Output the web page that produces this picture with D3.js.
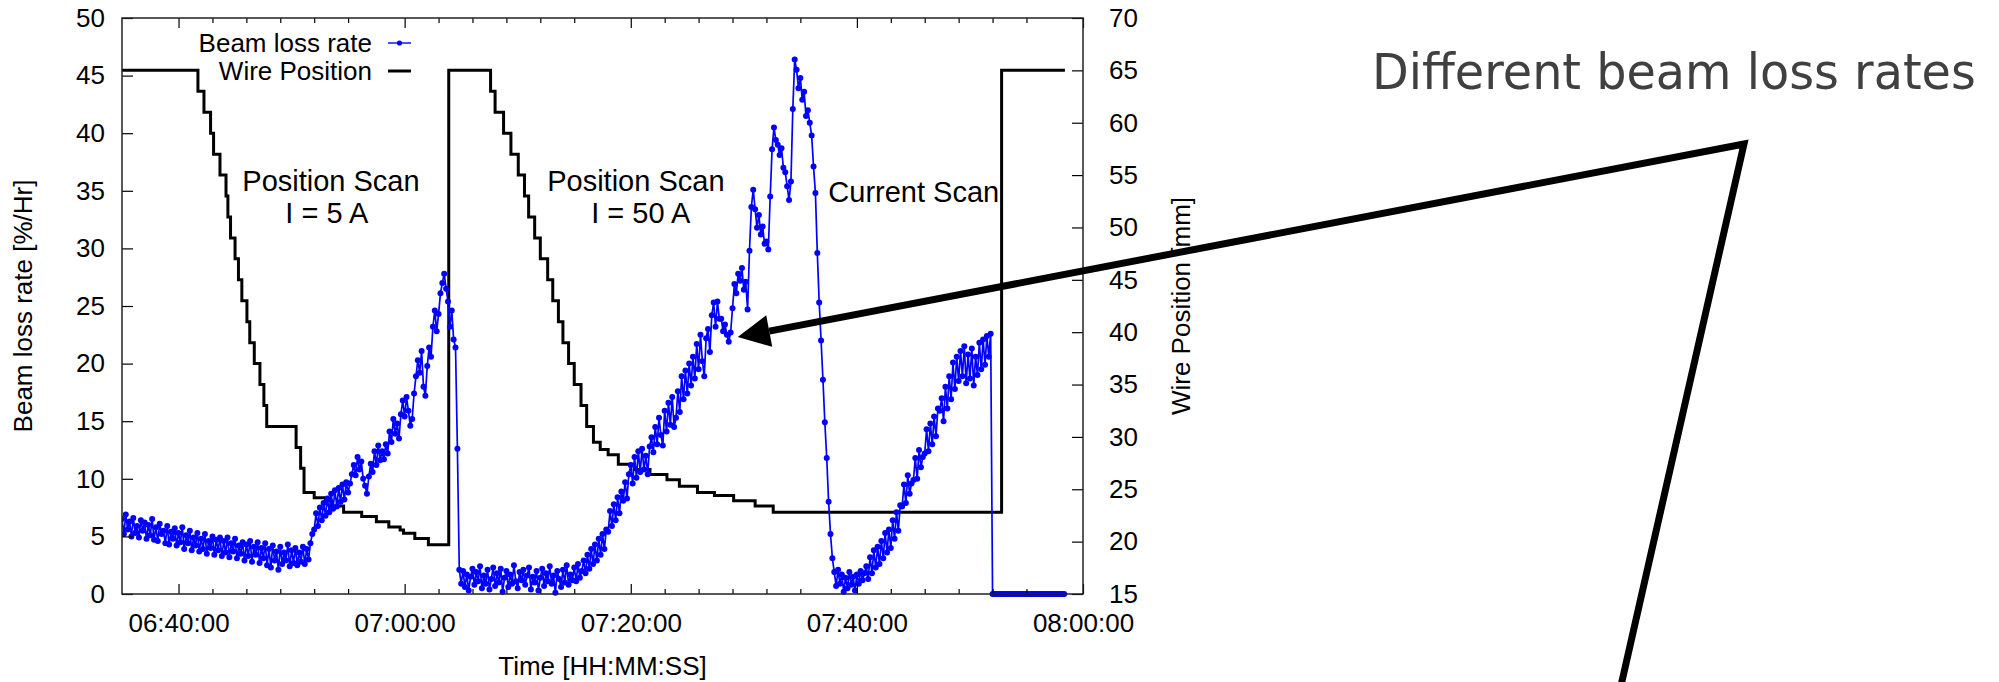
<!DOCTYPE html>
<html>
<head>
<meta charset="utf-8">
<script src="https://cdn.jsdelivr.net/npm/d3@7/dist/d3.min.js"></script>
<style>
  body { margin: 0; background: #fff; }
  text { font-family: "Liberation Sans", Arial, sans-serif; fill: #000; }
</style>
</head>
<body>
<div id="chart"></div>
<script>

// beam loss rate [%/Hr], one sample every 10 s starting at lossStart (one row = 1 min)
var lossStart = "06:35:00";
var lossStepSec = 10;
var lossValues = [
  6.5, 5.2, 6.9, 5.6, 6.3, 5.0,      // 06:35
  6.6, 5.3, 5.9, 4.9, 6.4, 5.5,
  6.2, 4.8, 6.0, 5.1, 6.5, 4.7,
  5.8, 4.6, 6.1, 5.2, 5.5, 4.4,
  5.9, 4.3, 5.4, 4.8, 5.7, 4.2,
  5.3, 4.5, 5.8, 3.9, 5.1, 4.4,      // 06:40
  5.5, 3.8, 4.9, 4.2, 5.3, 3.7,
  4.8, 3.9, 5.2, 3.5, 4.6, 4.0,
  5.0, 3.4, 4.7, 3.8, 4.9, 3.3,
  4.6, 3.6, 4.9, 3.2, 4.4, 3.7,
  4.8, 3.1, 4.2, 3.5, 4.5, 2.9,      // 06:45
  4.3, 3.3, 4.6, 2.8, 4.1, 3.4,
  4.5, 2.7, 4.0, 3.1, 4.4, 2.5,
  3.9, 2.3, 4.2, 2.9, 3.7, 2.1,
  4.1, 2.6, 3.6, 2.9, 4.3, 2.4,
  3.8, 2.7, 4.0, 2.5, 3.6, 2.8,      // 06:50
  4.1, 2.6, 3.9, 3.0, 4.4, 5.2,
  5.6, 7.0, 5.9, 7.5, 6.4, 7.9,
  6.8, 8.3, 7.1, 8.7, 7.4, 9.0,
  7.6, 9.2, 8.0, 9.5, 8.2, 9.7,
  8.8, 9.6, 10.4, 11.2, 10.3, 11.9,  // 06:55
  10.8, 11.5, 10.0, 9.4, 8.7, 10.2,
  11.3, 10.6, 12.4, 11.2, 12.9, 11.6,
  12.4, 11.7, 13.0, 12.2, 14.1, 13.2,
  15.2, 13.9, 14.8, 13.5, 15.6, 16.8,
  15.4, 17.1, 15.9, 14.6, 15.2, 17.4, // 07:00
  18.9, 20.3, 19.2, 21.1, 18.0, 17.2,
  19.8, 21.4, 20.6, 23.2, 24.6, 22.8,
  24.3, 26.1, 27.0, 27.8, 26.5, 25.4,
  23.2, 24.6, 22.1, 21.4, 12.6, 2.1,
  0.9, 2.0, 0.6, 1.7, 0.3, 1.5,      // 07:05
  2.2, 0.8, 1.9, 1.1, 2.4, 0.5,
  1.6, 0.9, 2.1, 0.4, 1.3, 2.3,
  0.7, 1.8, 1.0, 2.2, 0.2, 1.4,
  2.0, 0.6, 1.7, 0.9, 2.5, 1.1,
  0.5, 1.9, 1.2, 2.1, 0.8, 1.6,      // 07:10
  2.3, 0.4, 1.5, 1.0, 2.0, 0.3,
  1.4, 2.2, 0.7, 1.8, 1.1, 2.4,
  0.9, 1.6, 0.1, 2.0, 1.3, 0.6,
  2.1, 1.0, 2.5, 0.8, 1.7, 1.2,
  2.3, 1.1, 2.6, 1.4, 2.0, 2.9,      // 07:15
  1.8, 3.4, 2.2, 3.9, 2.6, 4.3,
  2.9, 4.8, 3.4, 5.2, 3.9, 5.6,
  5.4, 7.2, 5.9, 7.8, 6.4, 8.4,
  7.0, 8.9, 8.1, 9.7, 8.3, 10.4,
  11.2, 9.6, 11.9, 10.1, 12.4, 10.6, // 07:20
  12.6, 10.8, 12.0, 10.4, 12.8, 13.6,
  12.3, 14.5, 13.0, 15.3, 13.8, 12.9,
  15.9, 14.1, 16.6, 14.7, 17.1, 14.5,
  15.3, 17.6, 15.8, 18.9, 16.9, 19.4,
  17.4, 20.0, 18.1, 20.6, 18.7, 21.7, // 07:25
  19.5, 22.5, 20.2, 18.9, 22.2, 23.0,
  21.0, 24.2, 25.3, 23.2, 25.4, 23.9,
  23.9, 22.8, 23.4, 22.5, 21.9, 22.7,
  24.8, 26.9, 26.1, 27.8, 27.2, 28.3,
  26.4, 27.1, 24.7, 29.8, 33.6, 35.1, // 07:30
  33.4, 31.8, 32.9, 31.2, 31.9, 30.4,
  30.6, 29.9, 34.5, 38.6, 40.5, 39.4,
  39.0, 38.1, 38.7, 37.0, 36.6, 35.4,
  34.2, 35.8, 42.1, 46.4, 45.5, 43.9,
  44.8, 42.9, 43.6, 41.5, 42.0, 40.9, // 07:35
  39.8, 37.1, 34.8, 29.6, 25.3, 22.0,
  18.6, 14.9, 11.8, 8.0, 5.2, 3.1,
  1.9, 0.7, 2.1, 0.9, 1.7, 0.2,
  1.4, 0.5, 1.9, 0.8, 1.5, 0.3,
  1.7, 0.9, 2.0, 1.2, 1.8, 2.4,      // 07:40
  1.3, 3.2, 1.8, 3.8, 2.3, 4.1,
  2.6, 4.6, 3.1, 5.3, 3.6, 5.6,
  4.0, 6.4, 4.8, 7.1, 5.5, 7.7,
  7.6, 9.5, 7.9, 10.3, 8.7, 9.6,
  9.9, 11.8, 10.0, 12.5, 11.0, 11.9, // 07:45
  12.2, 14.3, 12.4, 14.8, 13.0, 15.4,
  13.7, 16.1, 15.9, 17.0, 15.0, 18.0,
  16.1, 18.9, 16.9, 20.1, 17.8, 20.6,
  18.5, 21.1, 18.9, 21.5, 18.3, 20.8,
  18.7, 21.3, 18.1, 20.6, 19.0, 21.8, // 07:50
  19.5, 22.1, 19.9, 22.4, 20.6, 22.6,
  0, 0, 0, 0, 0, 0,
  0, 0, 0, 0, 0, 0,
  0, 0, 0, 0, 0, 0,
  0, 0, 0, 0, 0, 0,                  // 07:55
  0, 0, 0, 0, 0, 0,
  0, 0, 0, 0, 0, 0,
  0, 0, 0
];

// wire position [mm]: time of each move and the new position
var wireTimes = [
  "06:35:00", "06:41:43", "06:42:15", "06:42:50", "06:43:06", "06:43:40",
  "06:44:12", "06:44:22", "06:44:36", "06:45:00", "06:45:18", "06:45:36",
  "06:46:03", "06:46:18", "06:46:42", "06:47:12", "06:47:33", "06:47:48",
  "06:50:24", "06:50:48", "06:51:06", "06:52:00", "06:53:00", "06:53:30",
  "06:54:36", "06:56:12", "06:57:30", "06:58:36", "06:59:36", "06:59:54",
  "07:00:54", "07:02:06", "07:03:54",
  "07:07:36", "07:08:00", "07:08:45", "07:09:24", "07:10:03", "07:10:36",
  "07:10:58", "07:11:30", "07:12:00", "07:12:39", "07:13:06", "07:13:36",
  "07:14:00", "07:14:30", "07:15:00", "07:15:36", "07:16:06", "07:16:42",
  "07:17:18", "07:18:00", "07:18:54", "07:20:18", "07:21:42", "07:23:12",
  "07:24:18", "07:25:54", "07:27:24", "07:29:06", "07:31:00", "07:32:36",
  "07:52:48", "07:58:24"
];
var wireValues = [
  65, 63, 61, 59, 57, 55,
  53, 51, 49, 47, 45, 43,
  41, 39, 37, 35, 33, 31,
  29, 27, 24.7, 24.2, 23.9, 23.4,
  22.8, 22.4, 21.9, 21.4, 21.1, 20.8,
  20.3, 19.7, 65,
  63, 61, 59, 57, 55, 53,
  51, 49, 47, 45, 43, 41,
  39, 37, 35, 33, 31, 29.5,
  28.8, 28.3, 27.4, 26.9, 26.4, 25.9,
  25.3, 24.7, 24.4, 23.9, 23.4, 22.8,
  65, 65
];

// axes
var xDomain = ["06:35:00", "08:00:00"];
var xMajorTicks = ["06:40:00", "07:00:00", "07:20:00", "07:40:00", "08:00:00"];
var xMinorOffsetsMin = [3, 6, 9, 12, 15];
var yTicks = [0, 5, 10, 15, 20, 25, 30, 35, 40, 45, 50];
var y2Ticks = [15, 20, 25, 30, 35, 40, 45, 50, 55, 60, 65, 70];

// text labels inside the plot (time, beam loss rate)
var scanLabels = [
  {text: "Position Scan", time: "06:53:29", value: 35.9},
  {text: "I = 5 A",       time: "06:53:07", value: 33.1},
  {text: "Position Scan", time: "07:20:27", value: 35.9},
  {text: "I = 50 A",      time: "07:20:53", value: 33.1},
  {text: "Current Scan",  time: "07:45:02", value: 34.9}
];

// callout arrow points at this sample
var calloutTarget = {time: "07:29:28", value: 22.3};
var calloutText = "Different beam loss rates";

// set the dimensions and margins of the graph
var margin = {top: 18, right: 916, bottom: 88, left: 122},
    fullW = 1999, fullH = 682,
    width = fullW - margin.left - margin.right,
    height = fullH - margin.top - margin.bottom;

var parseT = d3.timeParse("%H:%M:%S");

var svg = d3.select("#chart")
  .append("svg")
    .attr("width", fullW)
    .attr("height", fullH);

var g = svg.append("g")
    .attr("transform", "translate(" + margin.left + "," + margin.top + ")");

var x = d3.scaleTime()
  .domain(xDomain.map(parseT))
  .range([0, width]);

var y = d3.scaleLinear()
  .domain([0, 50])
  .range([height, 0]);

var y2 = d3.scaleLinear()
  .domain([15, 70])
  .range([height, 0]);

// data
var t0 = parseT(lossStart);
var loss = lossValues.map(function(v, i) {
  return {t: new Date(t0.getTime() + i * lossStepSec * 1000), v: v};
});
var wire = wireTimes.map(function(s, i) {
  return {t: parseT(s), v: wireValues[i]};
});

// clip (points may spill a little below the x axis, like gnuplot)
g.append("clipPath").attr("id", "clip")
  .append("rect").attr("width", width).attr("height", height + 4);

var plot = g.append("g").attr("clip-path", "url(#clip)");

// wire position (step line)
plot.append("path")
  .datum(wire)
  .attr("fill", "none")
  .attr("stroke", "#000")
  .attr("stroke-width", 3)
  .attr("d", d3.line()
    .curve(d3.curveStepAfter)
    .x(function(d) { return x(d.t); })
    .y(function(d) { return y2(d.v); }));

// beam loss rate (line + points)
plot.append("path")
  .datum(loss)
  .attr("fill", "none")
  .attr("stroke", "#0000ff")
  .attr("stroke-width", 1.7)
  .attr("stroke-linejoin", "round")
  .attr("d", d3.line()
    .x(function(d) { return x(d.t); })
    .y(function(d) { return y(d.v); }));

plot.selectAll("circle.pt")
  .data(loss)
  .enter().append("circle")
    .attr("class", "pt")
    .attr("cx", function(d) { return x(d.t); })
    .attr("cy", function(d) { return y(d.v); })
    .attr("r", 3)
    .attr("fill", "#0000ff");

// axes
var fontSize = "26px";
var majors = xMajorTicks.map(parseT);
var minors = [];
majors.forEach(function(m) {
  xMinorOffsetsMin.forEach(function(o) {
    var d = new Date(m.getTime() + o * 60000);
    if (d < x.domain()[1]) minors.push(d);
  });
});

function styleAxis(sel) {
  sel.select(".domain").remove();
  sel.selectAll(".tick line").attr("stroke", "#000").attr("stroke-width", 1.2);
  sel.selectAll(".tick text").style("font-size", fontSize).attr("fill", "#000");
}

g.append("g")
  .attr("transform", "translate(0," + height + ")")
  .call(d3.axisBottom(x).tickValues(majors).tickSize(-10).tickSizeOuter(0)
    .tickPadding(20).tickFormat(d3.timeFormat("%H:%M:%S")))
  .call(styleAxis);

g.append("g")
  .attr("transform", "translate(0," + height + ")")
  .call(d3.axisBottom(x).tickValues(minors).tickSize(-5).tickSizeOuter(0).tickFormat(""))
  .call(styleAxis);

g.append("g")
  .call(d3.axisTop(x).tickValues(majors).tickSize(-10).tickSizeOuter(0).tickFormat(""))
  .call(styleAxis);

g.append("g")
  .call(d3.axisTop(x).tickValues(minors).tickSize(-5).tickSizeOuter(0).tickFormat(""))
  .call(styleAxis);

g.append("g")
  .call(d3.axisLeft(y).tickValues(yTicks).tickSize(-11).tickSizeOuter(0).tickPadding(17))
  .call(styleAxis);

g.append("g")
  .attr("transform", "translate(" + width + ",0)")
  .call(d3.axisRight(y2).tickValues(y2Ticks).tickSize(-11).tickSizeOuter(0).tickPadding(26))
  .call(styleAxis);

// frame
g.append("rect")
  .attr("width", width)
  .attr("height", height)
  .attr("fill", "none")
  .attr("stroke", "#222")
  .attr("stroke-width", 1.5);

// axis titles
g.append("text")
  .attr("transform", "translate(" + (-99) + "," + (height / 2) + ") rotate(-90)")
  .attr("text-anchor", "middle")
  .attr("dy", "0.35em")
  .style("font-size", fontSize)
  .text("Beam loss rate [%/Hr]");

g.append("text")
  .attr("transform", "translate(" + (width + 98) + "," + (height / 2) + ") rotate(-90)")
  .attr("text-anchor", "middle")
  .attr("dy", "0.35em")
  .style("font-size", fontSize)
  .text("Wire Position [mm]");

g.append("text")
  .attr("x", width / 2)
  .attr("y", height + 72)
  .attr("text-anchor", "middle")
  .attr("dy", "0.35em")
  .style("font-size", fontSize)
  .text("Time [HH:MM:SS]");

// legend
var legend = g.append("g").attr("transform", "translate(250,0)");
legend.append("text")
  .attr("x", 0).attr("y", 25).attr("dy", "0.35em")
  .attr("text-anchor", "end")
  .style("font-size", fontSize)
  .text("Beam loss rate");
legend.append("line")
  .attr("x1", 16).attr("x2", 39).attr("y1", 25).attr("y2", 25)
  .attr("stroke", "#0000ff").attr("stroke-width", 1.4);
legend.append("circle")
  .attr("cx", 27.5).attr("cy", 25).attr("r", 2.6).attr("fill", "#0000ff");
legend.append("text")
  .attr("x", 0).attr("y", 53).attr("dy", "0.35em")
  .attr("text-anchor", "end")
  .style("font-size", fontSize)
  .text("Wire Position");
legend.append("line")
  .attr("x1", 16).attr("x2", 39).attr("y1", 53).attr("y2", 53)
  .attr("stroke", "#000").attr("stroke-width", 3);

// scan labels
g.selectAll("text.scan")
  .data(scanLabels)
  .enter().append("text")
    .attr("class", "scan")
    .attr("x", function(d) { return x(parseT(d.time)); })
    .attr("y", function(d) { return y(d.value); })
    .attr("dy", "0.35em")
    .attr("text-anchor", "middle")
    .style("font-size", "29px")
    .text(function(d) { return d.text; });

// callout: text + arrow to the data, second line down to the page edge
var tip = [margin.left + x(parseT(calloutTarget.time)), margin.top + y(calloutTarget.value)];
var corner = [1744, 144];
var tail = [1620, 690];

// narrow the label to the width it takes on the slide
var callout = svg.append("text")
  .style("font-family", "'DejaVu Sans', sans-serif")
  .style("font-size", "50px")
  .style("fill", "#404040")
  .text(calloutText);
var natural = callout.node().getComputedTextLength();
callout.attr("transform", "translate(1372,89) scale(" + (604 / natural) + ",1)");

var dx = tip[0] - corner[0], dy = tip[1] - corner[1];
var len = Math.sqrt(dx * dx + dy * dy);
var ux = dx / len, uy = dy / len;
var headLen = 32, headHalf = 16;
var base = [tip[0] - ux * headLen, tip[1] - uy * headLen];

svg.append("path")
  .attr("d", d3.line()([tail, corner, base]))
  .attr("fill", "none")
  .attr("stroke", "#000")
  .attr("stroke-width", 7)
  .attr("stroke-linejoin", "miter");

svg.append("path")
  .attr("d", d3.line()([
    tip,
    [base[0] - uy * headHalf, base[1] + ux * headHalf],
    [base[0] + uy * headHalf, base[1] - ux * headHalf]
  ]) + "Z")
  .attr("fill", "#000");

</script>
</body>
</html>
